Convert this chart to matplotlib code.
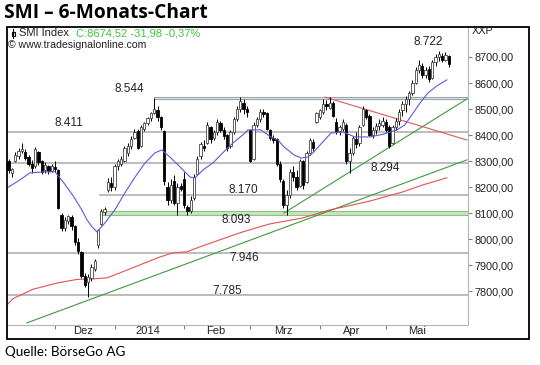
import matplotlib
matplotlib.use("Agg")
import matplotlib.pyplot as plt
from matplotlib.patches import Rectangle
from matplotlib.lines import Line2D
import numpy as np
import pandas as pd

plt.rcParams['font.family'] = ['Liberation Sans', 'DejaVu Sans']

# trading days (SIX holidays removed)
holidays = ["2013-12-24", "2013-12-25", "2013-12-26", "2013-12-31", "2014-01-01",
            "2014-01-02", "2014-04-18", "2014-04-21", "2014-05-01", "2014-05-29"]
dates = pd.bdate_range("2013-11-12", "2014-05-30")
dates = dates[~dates.isin(pd.to_datetime(holidays))]

opens = [8300, 8255, 8300, 8320, 8340, 8335, 8315, 8290, 8280, 8335, 8300, 8265, 8280, 8262,
         8278, 8265, 8095, 8045, 8070, 8085, 8050, 7990, 7950, 7860, 7835, 7850, 7885, 7980,
         8060, 8105, 8190, 8215, 8200, 8280, 8290, 8300, 8330, 8360, 8390, 8415, 8360, 8425,
         8445, 8465, 8485, 8495, 8470, 8415, 8200, 8150, 8225, 8140, 8205, 8230, 8125, 8110,
         8160, 8250, 8320, 8360, 8370, 8430, 8390, 8410, 8445, 8420, 8400, 8360, 8410, 8460,
         8500, 8525, 8500, 8420, 8310, 8440, 8460, 8490, 8485, 8420, 8390, 8385, 8290, 8225,
         8130, 8170, 8260, 8240, 8205, 8300, 8220, 8330, 8375, 8450, 8470, 8490, 8520, 8505,
         8525, 8450, 8415, 8425, 8440, 8300, 8330, 8385, 8370, 8440, 8495, 8475, 8400, 8420,
         8435, 8440, 8450, 8430, 8370, 8430, 8455, 8495, 8520, 8540, 8560, 8600, 8650, 8665,
         8630, 8655, 8620, 8680, 8700, 8705, 8690, 8705]
highs = [8310, 8275, 8335, 8350, 8370, 8345, 8325, 8305, 8355, 8340, 8305, 8295, 8285, 8290,
         8300, 8270, 8100, 8085, 8095, 8095, 8055, 8005, 7955, 7870, 7865, 7905, 7925, 8040,
         8115, 8125, 8235, 8240, 8290, 8310, 8320, 8360, 8370, 8395, 8425, 8425, 8440, 8450,
         8470, 8490, 8544, 8510, 8475, 8420, 8220, 8230, 8245, 8215, 8215, 8260, 8130, 8165,
         8250, 8320, 8375, 8380, 8450, 8435, 8420, 8460, 8455, 8430, 8405, 8420, 8470, 8510,
         8545, 8540, 8510, 8425, 8450, 8470, 8500, 8500, 8490, 8425, 8400, 8390, 8300, 8230,
         8190, 8270, 8280, 8265, 8310, 8305, 8340, 8390, 8385, 8490, 8500, 8540, 8535, 8545,
         8530, 8465, 8440, 8460, 8445, 8350, 8395, 8410, 8440, 8510, 8500, 8480, 8430, 8445,
         8460, 8470, 8460, 8440, 8440, 8465, 8500, 8530, 8550, 8570, 8610, 8660, 8690, 8675,
         8660, 8665, 8690, 8710, 8722, 8715, 8718, 8708]
lows = [8255, 8240, 8295, 8310, 8330, 8305, 8280, 8255, 8275, 8285, 8250, 8255, 8250, 8258,
        8260, 8115, 8030, 8030, 8060, 8035, 7980, 7945, 7850, 7815, 7780, 7840, 7880, 7965,
        8055, 8095, 8180, 8185, 8190, 8265, 8280, 8295, 8320, 8345, 8385, 8345, 8355, 8415,
        8440, 8455, 8480, 8455, 8420, 8210, 8130, 8140, 8130, 8095, 8185, 8120, 8093, 8100,
        8150, 8245, 8310, 8340, 8365, 8370, 8380, 8400, 8410, 8385, 8340, 8350, 8405, 8455,
        8490, 8480, 8470, 8295, 8305, 8430, 8450, 8470, 8420, 8380, 8370, 8280, 8220, 8120,
        8093, 8160, 8225, 8190, 8200, 8195, 8215, 8325, 8340, 8445, 8460, 8480, 8495, 8500,
        8470, 8405, 8400, 8415, 8290, 8255, 8325, 8350, 8360, 8435, 8460, 8395, 8390, 8405,
        8420, 8430, 8410, 8350, 8365, 8420, 8440, 8475, 8490, 8515, 8555, 8595, 8640, 8620,
        8620, 8605, 8615, 8665, 8685, 8680, 8685, 8662]
closes = [8265, 8268, 8325, 8340, 8345, 8312, 8290, 8275, 8345, 8295, 8260, 8285, 8262, 8280,
          8268, 8120, 8045, 8075, 8090, 8050, 7990, 7955, 7860, 7825, 7855, 7895, 7915, 8035,
          8110, 8118, 8220, 8200, 8280, 8300, 8310, 8350, 8360, 8385, 8410, 8350, 8430, 8445,
          8465, 8485, 8500, 8470, 8430, 8225, 8150, 8210, 8140, 8200, 8195, 8130, 8110, 8150,
          8240, 8310, 8365, 8350, 8440, 8385, 8410, 8450, 8420, 8395, 8350, 8410, 8460, 8500,
          8530, 8500, 8490, 8300, 8440, 8460, 8490, 8480, 8425, 8390, 8380, 8290, 8230, 8130,
          8170, 8260, 8240, 8200, 8300, 8210, 8330, 8380, 8350, 8485, 8495, 8520, 8510, 8525,
          8475, 8415, 8430, 8450, 8300, 8330, 8390, 8365, 8430, 8500, 8470, 8400, 8420, 8435,
          8445, 8455, 8420, 8360, 8430, 8455, 8490, 8520, 8540, 8560, 8600, 8650, 8670, 8630,
          8650, 8615, 8680, 8700, 8710, 8690, 8706.5, 8674.52]

# moving averages (day index, value)
blue_idx = [-0.5, 3.4, 6.4, 10.7, 14.0, 16.7, 19.7, 22.1, 23.7, 25.2, 26.7, 29.1, 32.1, 35.1,
            38.2, 41.2, 44.2, 46.3, 48.7, 51.8, 54.8, 56.3, 58.7, 61.7, 64.7, 67.8, 70.8, 72.3,
            76.2, 79.2, 81.4, 83.2, 86.2, 88.4, 90.4, 92.2, 94.1, 97.4, 101.0, 104.6, 109.2,
            113.4, 117.3, 119.7, 121.8, 124.3, 126.7, 129.4, 132.4]
blue_val = [8197, 8228, 8255, 8259, 8259, 8216, 8163, 8113, 8074, 8048, 8028, 8063, 8113, 8178,
            8239, 8293, 8332, 8343, 8316, 8278, 8239, 8236, 8266, 8293, 8332, 8370, 8401, 8420,
            8420, 8393, 8381, 8355, 8324, 8312, 8316, 8335, 8362, 8408, 8412, 8393, 8393,
            8404, 8420, 8439, 8477, 8523, 8562, 8589, 8612]
red_idx = [-0.5, 1.3, 7.3, 14.6, 20.6, 25.5, 29.7, 33.6, 39.7, 45.7, 49.6, 53.9, 57.8, 63.8,
           69.9, 75.9, 78.9, 88.9, 97.1, 104.0, 109.2, 119.1, 125.2, 132.4]
red_val = [7748, 7772, 7808, 7832, 7846, 7848, 7852, 7871, 7902, 7932, 7948, 7952, 7971, 7998,
           8025, 8048, 8059, 8082, 8113, 8132, 8147, 8182, 8209, 8236]

# trend lines (day index, price)
green_long = ([5.5, 138.5], [7679, 8305])
green_short = ([83.2, 138.5], [8101, 8539])
red_down = ([95.6, 138.5], [8546, 8381])

# horizontal levels: value, start index
levels = [(8411, -1), (8294, -1), (8170, 27.5), (7946, -1), (7785, -1)]
top_band = (8537, 8548, 44)
green_band = (8093, 8108, 27.5)

month_names = ["Dez", "2014", "Feb", "Mrz", "Apr", "Mai"]

W, H = 540, 365
fig = plt.figure(figsize=(5.4, 3.65), dpi=100)


def fx(px):
    return px / W


def fy(py):
    return 1 - py / H


ax = fig.add_axes([fx(7), fy(325), (468 - 7) / W, (325 - 27) / H])
ax.set_xlim(-0.5, 138.8)
ax.set_ylim(7671, 8815)

# support / resistance
for val, start in levels:
    ax.plot([start, 140], [val, val], color='#a9a9a9', lw=1.1, zorder=1)
ax.add_patch(Rectangle((top_band[2], top_band[0]), 140 - top_band[2], top_band[1] - top_band[0],
                       facecolor='#e4eaee', edgecolor='#9aa4aa', lw=0.8, zorder=1))
ax.add_patch(Rectangle((green_band[2], green_band[0]), 140 - green_band[2], green_band[1] - green_band[0],
                       facecolor='#c8e4c0', edgecolor='#8cc084', lw=0.8, zorder=1))

ax.plot(*green_long, color='#3f9a3f', lw=0.8, zorder=2)
ax.plot(*green_short, color='#3f9a3f', lw=0.8, zorder=2)
ax.plot(*red_down, color='#e05858', lw=0.8, zorder=2)
ax.plot(red_idx, red_val, color='#e85050', lw=0.8, zorder=2)
ax.plot(blue_idx, blue_val, color='#5a5ae0', lw=0.8, zorder=5)

# candles
x = np.arange(len(closes))
o = np.array(opens, dtype=float)
c = np.array(closes, dtype=float)
up = c >= o
ax.vlines(x, lows, highs, color='black', lw=0.7, zorder=3)
ax.bar(x[up], np.maximum((c - o)[up], 2), bottom=o[up], width=0.7, color='white',
       edgecolor='#444444', lw=0.6, zorder=4)
ax.bar(x[~up], np.maximum((o - c)[~up], 2), bottom=c[~up], width=0.7, color='black',
       edgecolor='black', lw=0.6, zorder=4)

# level labels
labels = [("8.544", 36.6, 8577), ("8.411", 18.2, 8447), ("8.722", 126.7, 8758),
          ("8.170", 70.8, 8190), ("8.093", 68.7, 8074), ("7.946", 71.1, 7929),
          ("7.785", 66.0, 7800), ("8.294", 113.7, 8274)]
for txt, xi, yi in labels:
    ax.text(xi, yi, txt, fontsize=8.5, ha='center', va='center', color='#222222', zorder=6)

# axes
month_starts = [i for i in range(1, len(dates)) if dates[i].month != dates[i - 1].month]
bounds = month_starts + [len(dates)]
centers = [(bounds[k] + bounds[k + 1] - 1) / 2 for k in range(len(month_starts))]
ax.set_xticks(month_starts)
ax.set_xticks(centers, minor=True)
ax.set_xticklabels([], minor=False)
ax.set_xticklabels(month_names, minor=True)
ax.tick_params(axis='x', which='major', length=3, color='#808080', direction='out')
ax.tick_params(axis='x', which='minor', length=0, labelsize=8, pad=1, labelcolor='#222222')

ax.yaxis.tick_right()
ticks = list(range(7800, 8800, 100))
ax.set_yticks(ticks)
ax.set_yticklabels([f"{t:.2f}".replace('.', ',') for t in ticks])
ax.tick_params(axis='y', length=3, color='#808080', labelsize=7.8, pad=1.5, labelcolor='#222222')

for s in ['top', 'left']:
    ax.spines[s].set_visible(False)
for s in ['right', 'bottom']:
    ax.spines[s].set_color('#b4b4b4')
    ax.spines[s].set_linewidth(0.8)

fig.add_artist(Rectangle((fx(7), fy(339)), (529 - 7) / W, (339 - 27) / H, transform=fig.transFigure,
                         fill=False, edgecolor='black', lw=1.3))

# texts
fig.text(fx(4), fy(13), "SMI – 6-Monats-Chart", fontsize=13.8, fontweight='bold',
         family='Open Sans', va='center', ha='left')
fig.text(fx(5), fy(352), "Quelle: BörseGo AG", fontsize=9.7, family='Lato', va='center', ha='left')
fig.text(fx(472), fy(31), "XXP", fontsize=7.8, va='center', ha='left', color='#222222')
fig.text(fx(19), fy(33), "SMI Index", fontsize=8, va='center', ha='left', color='#222222')
fig.text(fx(76), fy(33), "C:8674,52 -31,98 -0,37%", fontsize=8, va='center', ha='left', color='#3cc43c')
fig.text(fx(8), fy(45), "© www.tradesignalonline.com", fontsize=7.6, va='center', ha='left', color='#222222')
fig.add_artist(Line2D([fx(13), fx(13)], [fy(29), fy(38)], transform=fig.transFigure, color='black', lw=0.8))
fig.add_artist(Rectangle((fx(11.5), fy(36)), 3 / W, 4 / H, transform=fig.transFigure,
                         facecolor='white', edgecolor='black', lw=0.8))

fig.savefig("out.png", dpi=100)
